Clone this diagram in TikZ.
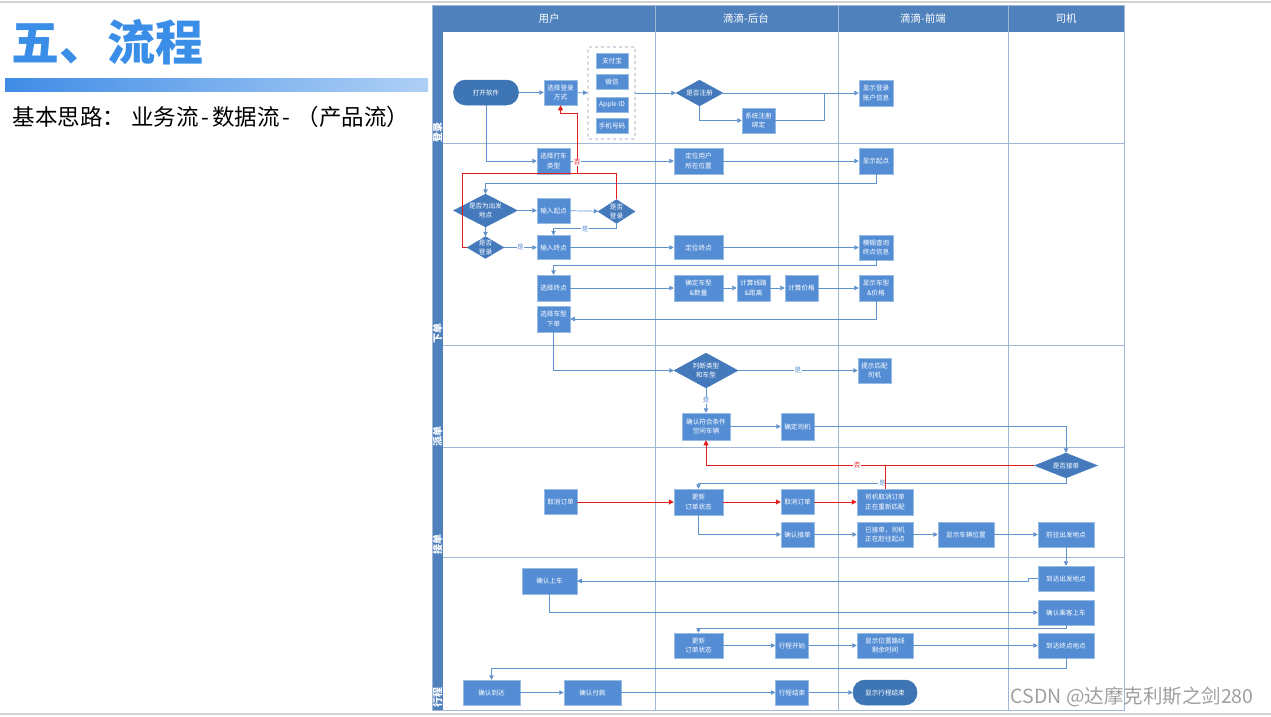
\documentclass[tikz,border=0pt]{standalone}
\usepackage{fontspec}
\setmainfont{Noto Sans CJK SC}
\usepackage{xcolor}
\usetikzlibrary{positioning, arrows.meta, shapes.geometric}

\definecolor{boxblue}{RGB}{84,141,212}
\definecolor{boxedge}{RGB}{150,188,228}
\definecolor{pillblue}{RGB}{62,117,180}
\definecolor{decblue}{RGB}{68,122,188}
\definecolor{hdrblue}{RGB}{79,129,189}
\definecolor{lanec}{RGB}{160,182,212}
\definecolor{lnc}{RGB}{96,146,204}
\definecolor{redc}{RGB}{228,28,28}
\definecolor{grpc}{RGB}{130,150,175}
\definecolor{titleblue}{RGB}{58,142,232}
\definecolor{barL}{RGB}{64,140,230}
\definecolor{barR}{RGB}{175,208,245}

\begin{document}
\begin{tikzpicture}[x=1pt, y=-1pt,
    box/.style={draw=boxedge, line width=0.5pt, fill=boxblue, text=white, align=center,
      font=\fontsize{6.6}{9.5}\selectfont, inner sep=0pt, minimum width=33, minimum height=25},
    pill/.style={box, fill=pillblue, draw=pillblue, rounded corners=12pt},
    dec/.style={diamond, draw=decblue, fill=decblue, inner sep=0pt},
    dtxt/.style={text=white, align=center, font=\fontsize{6.6}{9.5}\selectfont, inner sep=0pt},
    grp/.style={draw=grpc, dashed, line width=0.8pt, rounded corners=1pt},
    ln/.style={draw=lnc, line width=0.7pt, -{Triangle[length=4.5pt,width=4.5pt]}},
    link/.style={draw=lnc, line width=0.7pt},
    rl/.style={draw=redc, line width=1pt},
    rarr/.style={rl, -{Triangle[length=5pt,width=5pt]}},
    yes/.style={fill=white, text=lnc, font=\fontsize{6.5}{7}\selectfont, inner sep=0.6pt},
    no/.style={yes, text=redc},
    lane/.style={draw=lanec, line width=1pt},
    hdr/.style={text=white, font=\fontsize{10.5}{11}\selectfont},
    lanelbl/.style={text=white, rotate=90, font=\fontsize{10}{10}\bfseries}]

  \useasboundingbox (0,0) rectangle (1271,716);
  \draw[gray!35, line width=1.2pt] (0,2) -- (1271,2);
  \draw[gray!35, line width=1.2pt] (0,714) -- (1271,714);

  % left side of the slide
  \node[anchor=west, text=titleblue, font=\fontsize{48}{48}\bfseries] (title) at (8,42) {五、流程};
  \shade[left color=barL, right color=barR] (5,78) rectangle (428,91);
  \node[anchor=west, font=\fontsize{22.5}{22.5}\selectfont] (sub) at (9,117) {基本思路：\hspace{6pt}业务流\hspace{3pt}-\hspace{3pt}数据流\hspace{3pt}-\hspace{6pt}（产品流）};

  % lanes
  \fill[hdrblue] (443,5) rectangle (1124,32);
  \fill[hdrblue] (432,5) rectangle (443,710);
  \foreach \x in {655,838,1008}
    \draw[lane] (\x,5) -- (\x,710);
  \foreach \y in {143,345,447,557}
    \draw[lane] (443,\y) -- (1124,\y);
  \draw[lane] (432,5) rectangle (1124,710);
  \foreach \x/\t [count=\i] in {549/用户, 746/滴滴-后台, 923/滴滴-前端, 1066/司机}
    \node[hdr] (h\i) at (\x,18.5) {\t};
  \foreach \y/\t [count=\i] in {132/登录, 333/下单, 436/派单, 544/接单, 697/行程}
    \node[lanelbl] (r\i) at (437.5,\y) {\t};

  % login
  \node[pill, minimum width=65] (open) at (486,92.5) {打开软件};
  \node[box] (dlfs) at (560.5,92.5) {选择登录\\方式};
  \node[grp, minimum width=47, minimum height=92] (grp) at (611.5,93) {};
  \node[box, minimum width=32, minimum height=15] (zfb) at (612,60.5) {支付宝};
  \node[box, minimum width=32, minimum height=15] (wx) at (612,81.5) {微信};
  \node[box, minimum width=32, minimum height=15] (apple) at (612,104.5) {Apple ID};
  \node[box, minimum width=32, minimum height=15] (sjh) at (612,125.5) {手机号码};
  \node[dec, minimum width=47, minimum height=26, label={[dtxt]center:是否注册}] (zc) at (699.5,93) {};
  \node[box] (xtzc) at (758.5,120.5) {系统注册\\绑定};
  \node[box, minimum width=34, minimum height=26] (xsdl) at (876,93) {显示登录\\账户信息};
  \coordinate (mj) at (824,93);

  % order
  \node[box, minimum height=26] (dclx) at (553.5,161) {选择打车\\类型};
  \node[box, minimum width=49, minimum height=26] (dwyh) at (698.5,161) {定位用户\\所在位置};
  \node[box, minimum width=34, minimum height=26] (xsqd) at (876,161) {显示起点};
  \node[dec, minimum width=64, minimum height=33, label={[dtxt]center:是否为出发\\地点}] (sfcf) at (485.5,210.5) {};
  \node[box] (srqd) at (553.5,210.5) {输入起点};
  \node[dec, minimum width=37, minimum height=24, label={[dtxt]center:是否\\登录}] (dl1) at (616.5,211.5) {};
  \node[dec, minimum width=37, minimum height=22, label={[dtxt]center:是否\\登录}] (dl2) at (485.5,247.5) {};
  \node[box, minimum height=24] (srzd) at (553.5,247.5) {输入终点};
  \node[box, minimum width=49, minimum height=24] (dwzd) at (698.5,247.5) {定位终点};
  \node[box, minimum width=34] (mhcx) at (876,247.5) {模糊查询\\终点信息};
  \node[box, minimum height=26] (xzzd) at (553.5,288) {选择终点};
  \node[box, minimum width=49, minimum height=26] (qdcx) at (698.5,288) {确定车型\\\&数量};
  \node[box, minimum height=26] (jsxl) at (753.5,288) {计算线路\\\&距离};
  \node[box, minimum height=26] (jsjg) at (801.5,288) {计算价格};
  \node[box, minimum width=34, minimum height=26] (xscx) at (876,288) {显示车型\\\&价格};
  \node[box, minimum height=26] (xzcx) at (553.5,319) {选择车型\\下单};
  \coordinate (r0) at (462,173);
  \coordinate (r1) at (577,173);
  \coordinate (r2) at (577,113);

  % dispatch
  \node[dec, minimum width=64, minimum height=35, label={[dtxt]center:判断类型\\和车型}] (pdlx) at (706,370.5) {};
  \node[box] (tspp) at (874.5,370.5) {提示匹配\\司机};
  \node[box, minimum width=48, minimum height=27] (qrfh) at (706,426.5) {确认符合条件\\空闲车辆};
  \node[box, minimum height=27] (qdsj) at (797.5,426.5) {确定司机};
  \node[dec, minimum width=63, minimum height=25, label={[dtxt]center:是否接单}] (sfjd) at (1066,465.5) {};

  % take order
  \node[box] (qxdd) at (560.5,502) {取消订单};
  \node[box, minimum width=49, minimum height=26] (gxzt) at (698.5,502) {更新\\订单状态};
  \node[box] (qxdd2) at (797.5,502) {取消订单};
  \node[box, minimum width=56, minimum height=26] (qxpp) at (885,502) {司机取消订单\\正在重新匹配};
  \node[box] (qrjd) at (797.5,534.5) {确认接单};
  \node[box, minimum width=56] (yjd) at (885,534.5) {已接单，司机\\正在赶往起点};
  \node[box, minimum width=56] (xswz) at (966,534.5) {显示车辆位置};
  \node[box, minimum width=56] (qwcf) at (1066,534.5) {前往出发地点};

  % trip
  \node[box, minimum width=56] (ddcf) at (1066,578.5) {到达出发地点};
  \node[box, minimum width=55, minimum height=26] (qrsc) at (549.5,581) {确认上车};
  \node[box, minimum width=56] (qrck) at (1066,612.5) {确认乘客上车};
  \node[box, minimum width=49] (gxzt2) at (698.5,645.5) {更新\\订单状态};
  \node[box] (xcks) at (792,645.5) {行程开始};
  \node[box, minimum width=56] (xswzlx) at (885,645.5) {显示位置路线\\剩余时间};
  \node[box, minimum width=56] (ddzd) at (1066,645.5) {到达终点地点};
  \node[box, minimum width=57] (qrdd) at (491.5,692.5) {确认到达};
  \node[box, minimum width=57] (qrfk) at (592.5,692.5) {确认付款};
  \node[box] (xcjs) at (792,692.5) {行程结束};
  \node[pill, minimum width=64] (xsjs) at (885,692.5) {显示行程结束};

  % connectors: login
  \draw[ln] (open) -- (dlfs);
  \draw[ln] (dlfs) -- (grp);
  \draw[ln] (grp) -- (zc);
  \draw[ln] (zc) -- (xsdl);
  \draw[ln] (zc.south) |- (xtzc);
  \draw[link] (xtzc) -| (mj);
  \draw[ln] (open.south) |- (dclx.west);

  % connectors: order
  \draw[ln] (dclx) -- (dwyh);
  \draw[ln] (dwyh) -- (xsqd);
  \draw[ln] (xsqd.south) -- ++(0,9) -| (sfcf.north);
  \draw[ln] (sfcf) -- (srqd);
  \draw[ln] (srqd) -- (dl1);
  \draw[ln] (dl1.south) -- ++(0,5) -| node[yes, pos=0.25] {是} (srzd.north);
  \draw[ln] (sfcf) -- (dl2);
  \draw[ln] (dl2) -- node[yes] {是} (srzd);
  \draw[rl] (dl1.north) |- (r1);
  \draw[rl] (dl2.west) -| (r0) -- (r1);
  \draw[rarr] (r1) -- node[no, pos=0.18] {否} (r2) -| (dlfs.south);
  \draw[ln] (srzd) -- (dwzd);
  \draw[ln] (dwzd) -- (mhcx);
  \draw[ln] (mhcx.south) -- ++(0,5) -| (xzzd.north);
  \draw[ln] (xzzd) -- (qdcx);
  \draw[ln] (qdcx) -- (jsxl);
  \draw[ln] (jsxl) -- (jsjg);
  \draw[ln] (jsjg) -- (xscx);
  \draw[ln] (xscx.south) |- (xzcx);
  \draw[ln] (xzcx.south) |- (pdlx);

  % connectors: dispatch
  \draw[ln] (pdlx) -- node[yes] {是} (tspp);
  \draw[ln] (pdlx) -- node[yes] {是} (qrfh);
  \draw[ln] (qrfh) -- (qdsj);
  \draw[ln] (qdsj) -| (sfjd);
  \draw[rarr] (sfjd) -| node[no, pos=0.27] {否} (qrfh);
  \draw[ln] (sfjd.south) -- ++(0,5) -| node[yes, pos=0.25] {是} (gxzt);

  % connectors: take order
  \draw[rarr] (qxdd) -- (gxzt);
  \draw[rarr] (gxzt) -- (qxdd2);
  \draw[rarr] (qxdd2) -- (qxpp);
  \draw[rl] (qxpp.north) -- (qxpp.north |- sfjd.west);
  \draw[ln] (gxzt.south) |- (qrjd);
  \draw[ln] (qrjd) -- (yjd);
  \draw[ln] (yjd) -- (xswz);
  \draw[ln] (xswz) -- (qwcf);
  \draw[ln] (qwcf) -- (ddcf);

  % connectors: trip
  \draw[ln] (ddcf.west) -- ++(-9,0) |- (qrsc);
  \draw[ln] (qrsc.south) |- (qrck);
  \draw[ln] (qrck.south) -- ++(0,3) -| (gxzt2.north);
  \draw[ln] (gxzt2) -- (xcks);
  \draw[ln] (xcks) -- (xswzlx);
  \draw[ln] (xswzlx) -- (ddzd);
  \draw[ln] (ddzd.south) -- ++(0,10) -| (qrdd.north);
  \draw[ln] (qrdd) -- (qrfk);
  \draw[ln] (qrfk) -- (xcjs);
  \draw[ln] (xcjs) -- (xsjs);

  \node[anchor=east, text=gray!75, font=\fontsize{19.5}{19.5}\selectfont] (wm) at (1257,697) {CSDN @达摩克利斯之剑280};
\end{tikzpicture}
\end{document}
